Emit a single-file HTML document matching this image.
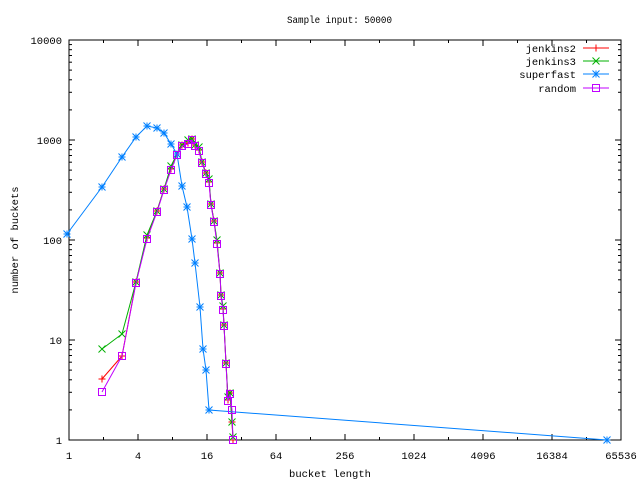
<!DOCTYPE html>
<html><head><meta charset="utf-8"><style>
html,body{margin:0;padding:0;background:#fff}
svg{display:block}
text{font-family:"Liberation Mono","DejaVu Sans Mono",monospace;font-size:10.5px;fill:#000}
</style></head><body>
<svg id="s" width="640" height="480" xmlns="http://www.w3.org/2000/svg">
<rect width="640" height="480" fill="#fff"/>
<text x="287" y="23" textLength="105" lengthAdjust="spacingAndGlyphs">Sample input: 50000</text>
<text x="330" y="477" text-anchor="middle">bucket length</text>
<text transform="translate(18,240) rotate(-90)" text-anchor="middle">number of buckets</text>
<g id="ax"></g>
<rect x="69" y="40" width="552" height="400" fill="none" stroke="#000" stroke-width="1"/>
<g id="data"></g>
<g id="leg">
<text x="576" y="52" text-anchor="end">jenkins2</text>
<text x="576" y="65" text-anchor="end">jenkins3</text>
<text x="576" y="78" text-anchor="end">superfast</text>
<text x="576" y="92" text-anchor="end">random</text>
</g>
</svg>
<script>
var NS="http://www.w3.org/2000/svg";
function el(p,t,a,txt){var e=document.createElementNS(NS,t);for(var k in a)e.setAttribute(k,a[k]);if(txt!=null)e.textContent=txt;p.appendChild(e);return e;}
var ax=document.getElementById('ax');
function X(v){return 69+34.5*Math.log2(v);}
function Y(v){return 440-100*Math.log10(v);}
for(var i=0;i<=16;i++){var x=X(Math.pow(2,i));var L=(i%2==0)?6:3;
 el(ax,'line',{x1:x,y1:440,x2:x,y2:440-L,stroke:'#000'});
 el(ax,'line',{x1:x,y1:40,x2:x,y2:40+L,stroke:'#000'});
 if(i%2==0)el(ax,'text',{x:x,y:459,'text-anchor':'middle'},String(Math.pow(2,i)));}
for(var d=0;d<=4;d++){for(var m=1;m<=9;m++){if(d==4&&m>1)break;var v=m*Math.pow(10,d);var y=Y(v);var L=m==1?6:3;
 el(ax,'line',{x1:69,y1:y,x2:69+L,y2:y,stroke:'#000'});
 el(ax,'line',{x1:621,y1:y,x2:621-L,y2:y,stroke:'#000'});
 if(m==1)el(ax,'text',{x:62,y:y+4,'text-anchor':'end'},String(v));}}
var tail=[[136,282],[147,238],[157,211],[164,189],[171,169],[177,154],[182,145],[188,143],[192,139],[195,145],[199,150],[202,162],[206,173],[209,182],[211,204],[214,221],[217,243],[220,273],[221,295],[223,309],[224,325],[226,363],[228,400],[230,393],[232,422],[233,440]];
function shift(a,dy){return a.map(function(p,i){return [p[0],Math.min(440,p[1]+(i%3==1?dy:0))];});}
var series=[
 {c:'#ff0000',m:'+',p:[[102,379],[122,356]].concat(tail)},
 {c:'#00b000',m:'x',p:[[102,349],[122,334]].concat(shift(tail,-3))},
 {c:'#0080ff',m:'*',p:[[67,234],[102,187],[122,157],[136,137],[147,126],[157,128],[164,133],[171,144],[177,154],[182,186],[187,207],[192,239],[195,263],[200,307],[203,349],[206,370],[209,410],[607,440]]},
 {c:'#c000ff',m:'s',p:[[102,392],[122,356]].concat(tail.slice(0,24).map(function(p){return [p[0],p[1]+1]})).concat([[232,410],[233,440]])}
];
var g=document.getElementById('data');
function mark(c,m,x,y){var r=3.5;
 if(m=='+'||m=='*'){el(g,'line',{x1:x-r,y1:y,x2:x+r,y2:y,stroke:c});el(g,'line',{x1:x,y1:y-r,x2:x,y2:y+r,stroke:c});}
 if(m=='x'||m=='*'){el(g,'line',{x1:x-r,y1:y-r,x2:x+r,y2:y+r,stroke:c});el(g,'line',{x1:x-r,y1:y+r,x2:x+r,y2:y-r,stroke:c});}
 if(m=='s')el(g,'rect',{x:x-3.5,y:y-3.5,width:7,height:7,fill:'none',stroke:c});}
series.forEach(function(s,i){
 el(g,'polyline',{points:s.p.map(function(p){return p.join(',')}).join(' '),fill:'none',stroke:s.c,'stroke-width':1});
 s.p.forEach(function(p){mark(s.c,s.m,p[0],p[1]);});
 var ly=[48,61,74,88][i];
 el(g,'line',{x1:583,y1:ly,x2:609,y2:ly,stroke:s.c});
 mark(s.c,s.m,596,ly);
});
</script>
</body></html>
